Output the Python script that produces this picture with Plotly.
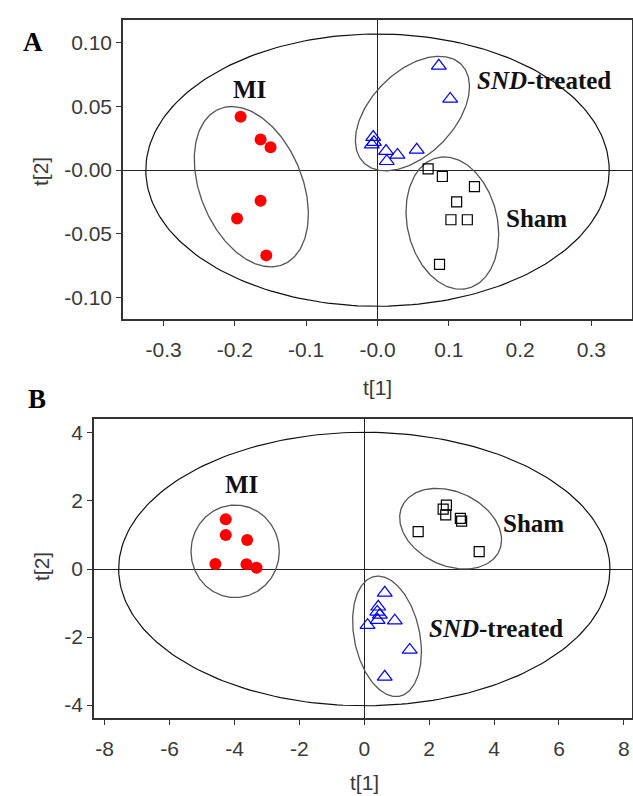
import numpy as np
import plotly.graph_objects as go

# ---------------- Panel A data ----------------
mi_a_t1 = [-0.192, -0.164, -0.150, -0.164, -0.197, -0.156]
mi_a_t2 = [0.042, 0.024, 0.018, -0.024, -0.038, -0.067]
snd_a_t1 = [0.086, 0.102, -0.006, -0.008, 0.012, 0.028, 0.013, 0.055, -0.005]
snd_a_t2 = [0.082, 0.056, 0.026, 0.020, 0.015, 0.012, 0.007, 0.016, 0.022]
sham_a_t1 = [0.071, 0.091, 0.136, 0.111, 0.103, 0.126, 0.087]
sham_a_t2 = [0.001, -0.005, -0.013, -0.025, -0.039, -0.039, -0.074]

# ellipses: (cx, cy, half-width x, half-height y, phase deg)
ell_a_mi = (-0.177, -0.013, 0.080, 0.063, 110)
ell_a_snd = (0.049, 0.0445, 0.080, 0.045, 62)
ell_a_sham = (0.105, -0.0416, 0.065, 0.052, 100)
ell_a_big = (0.0, 0.0, 0.325, 0.107, 90)

a_xticks = [-0.3, -0.2, -0.1, 0.0, 0.1, 0.2, 0.3]
a_xticktext = ["-0.3", "-0.2", "-0.1", "-0.0", "0.1", "0.2", "0.3"]
a_yticks = [0.10, 0.05, 0.0, -0.05, -0.10]
a_yticktext = ["0.10", "0.05", "-0.00", "-0.05", "-0.10"]

# ---------------- Panel B data ----------------
mi_b_t1 = [-4.27, -4.27, -3.61, -4.59, -3.63, -3.32]
mi_b_t2 = [1.46, 1.00, 0.85, 0.15, 0.14, 0.04]
snd_b_t1 = [0.63, 0.43, 0.40, 0.48, 0.41, 0.94, 0.10, 1.40, 0.63]
snd_b_t2 = [-0.70, -1.11, -1.26, -1.35, -1.50, -1.52, -1.65, -2.38, -3.17]
sham_b_t1 = [2.53, 2.43, 2.51, 2.96, 3.00, 1.66, 3.54]
sham_b_t2 = [1.88, 1.76, 1.59, 1.49, 1.41, 1.10, 0.51]

ell_b_mi = (-3.98, 0.52, 1.36, 1.36, 90)
ell_b_snd = (0.70, -1.98, 1.06, 1.77, 105)
ell_b_sham = (2.66, 1.185, 1.57, 1.185, 106)
ell_b_big = (0.0, 0.0, 7.57, 4.02, 90)

b_xticks = [-8, -6, -4, -2, 0, 2, 4, 6, 8]
b_xticktext = ["-8", "-6", "-4", "-2", "0", "2", "4", "6", "8"]
b_yticks = [4, 2, 0, -2, -4]
b_yticktext = ["4", "2", "0", "-2", "-4"]


def ellipse(p, n=240):
    cx, cy, hx, hy, ph = p
    t = np.linspace(0, 2 * np.pi, n)
    return cx + hx * np.cos(t), cy + hy * np.cos(t + np.radians(ph))


fig = go.Figure()

def add_panel(xa, ya, mi, snd, sham, ells):
    for i, e in enumerate(ells):
        ex, ey = ellipse(e)
        big = i == len(ells) - 1
        fig.add_trace(go.Scatter(x=ex, y=ey, mode="lines", xaxis=xa, yaxis=ya,
                                 line=dict(color="#111" if big else "#555",
                                           width=1.2 if big else 1.3),
                                 hoverinfo="skip", showlegend=False))
    fig.add_trace(go.Scatter(x=mi[0], y=mi[1], mode="markers", xaxis=xa, yaxis=ya,
                             marker=dict(symbol="circle", color="#ff0000", size=12),
                             showlegend=False, name="MI"))
    fig.add_trace(go.Scatter(x=snd[0], y=snd[1], mode="markers", xaxis=xa, yaxis=ya,
                             marker=dict(symbol="triangle-up-open", color="#0000ff", size=13,
                                         line=dict(width=1.2)),
                             showlegend=False, name="SND-treated"))
    fig.add_trace(go.Scatter(x=sham[0], y=sham[1], mode="markers", xaxis=xa, yaxis=ya,
                             marker=dict(symbol="square-open", color="#000000", size=10,
                                         line=dict(width=1.2)),
                             showlegend=False, name="Sham"))

add_panel("x", "y", (mi_a_t1, mi_a_t2), (snd_a_t1, snd_a_t2), (sham_a_t1, sham_a_t2),
          [ell_a_mi, ell_a_snd, ell_a_sham, ell_a_big])
add_panel("x2", "y2", (mi_b_t1, mi_b_t2), (snd_b_t1, snd_b_t2), (sham_b_t1, sham_b_t2),
          [ell_b_mi, ell_b_snd, ell_b_sham, ell_b_big])

W, H = 633, 796
tickfont = dict(family="Liberation Sans, Arial", size=21, color="#3a3a3a")
common = dict(showline=True, mirror=True, linecolor="#333", linewidth=1.5,
              ticks="outside", ticklen=5, tickcolor="#333", tickwidth=1.2,
              showgrid=False, zeroline=True, zerolinecolor="#222", zerolinewidth=1,
              tickfont=tickfont, ticklabeloverflow="allow")

fig.update_layout(
    width=W, height=H, margin=dict(l=0, r=0, t=0, b=0),
    paper_bgcolor="white", plot_bgcolor="white",
    xaxis=dict(domain=[123 / W, 632 / W], anchor="y", range=[-0.357, 0.357],
               tickvals=a_xticks, ticktext=a_xticktext, ticklabelstandoff=6, **common),
    yaxis=dict(domain=[1 - 319 / H, 1 - 20 / H], anchor="x", range=[-0.117, 0.118],
               tickvals=a_yticks, ticktext=a_yticktext, **common),
    xaxis2=dict(domain=[94 / W, 632 / W], anchor="y2", range=[-8.33, 8.25],
                tickvals=b_xticks, ticktext=b_xticktext, ticklabelstandoff=6, **common),
    yaxis2=dict(domain=[1 - 718 / H, 1 - 419 / H], anchor="x2", range=[-4.38, 4.41],
                tickvals=b_yticks, ticktext=b_yticktext, **common),
)

titlefont = dict(family="Liberation Sans, Arial", size=21, color="#3a3a3a")
labfont = dict(family="Liberation Serif, Times New Roman", size=25, color="#111")
for x, y in [(378, 387), (364, 782)]:
    fig.add_annotation(xref="paper", yref="paper", x=x / W, y=1 - y / H, text="t[1]",
                       showarrow=False, font=titlefont, xanchor="center", yanchor="middle")
for yy in [171, 566]:
    fig.add_annotation(xref="paper", yref="paper", x=41 / W, y=1 - yy / H, text="t[2]",
                       textangle=-90, showarrow=False, font=titlefont,
                       xanchor="center", yanchor="middle")

# panel letters
fig.add_annotation(xref="paper", yref="paper", x=21 / W, y=1 - 25 / H, text="<b>A</b>",
                   showarrow=False, font=dict(family="Liberation Serif", size=27, color="#000"))
fig.add_annotation(xref="paper", yref="paper", x=26 / W, y=1 - 399 / H, text="<b>B</b>",
                   showarrow=False, font=dict(family="Liberation Serif", size=27, color="#000"))

# group labels
grp = [
    ("x", "y", -0.180, 0.063, "<b>MI</b>"),
    ("x", "y", 0.233, 0.0706, "<b><i>SND</i>-treated</b>"),
    ("x", "y", 0.2226, -0.0377, "<b>Sham</b>"),
    ("x2", "y2", -3.77, 2.47, "<b>MI</b>"),
    ("x2", "y2", 5.2, 1.34, "<b>Sham</b>"),
    ("x2", "y2", 4.05, -1.74, "<b><i>SND</i>-treated</b>"),
]
for xr, yr, x, y, t in grp:
    fig.add_annotation(xref=xr, yref=yr, x=x, y=y, text=t, showarrow=False, font=labfont,
                       xanchor="center", yanchor="middle")

fig.write_html("out.html", config={"displayModeBar": False},
               post_script="document.body.style.margin='0';document.body.style.overflow='hidden';")
